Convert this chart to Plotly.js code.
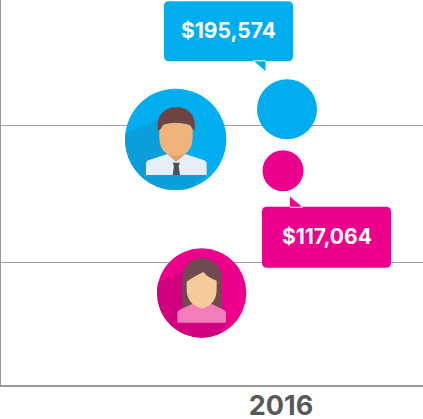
<!DOCTYPE html>
<html>
<head>
<meta charset="utf-8">
<script src="https://cdn.plot.ly/plotly-3.0.1.min.js"></script>
<style>html,body{margin:0;padding:0;background:#fff;overflow:hidden}#c{width:423px;height:419px}</style>
</head>
<body>
<div id="c"></div>
<script>
const years = [2016.06, 2016.02];
const tickYears = [2016];
const groups = ['Men', 'Women'];
const salaries = [195574, 117064];
const salaryLabels = ['$195,574', '$117,064'];
const gridValues = [0, 175000];

const BLUE = '#00AEEF', PINK = '#EC008C';
const W = 423, H = 419, ML = 1, MB = 34;
const plotW = W - ML, plotH = H - MB;

const manSvg = `<svg xmlns="http://www.w3.org/2000/svg" viewBox="0 0 330 330" width="330" height="330">
<defs><clipPath id="a"><circle cx="167" cy="178" r="152"/></clipPath></defs>
<circle cx="167" cy="178" r="152" fill="${BLUE}"/>
<path clip-path="url(#a)" d="M118 118L0 168V270L110 340H190L262 284L260 245L196 225L218 170Z" fill="#0A9FDA"/>
<path d="M78 285V250Q78 242 90 239L142 222H196L248 239Q260 242 260 250V285Z" fill="#E6EEF8"/>
<path d="M142 222L168 246L196 222L196 205H142Z" fill="#DDA06A"/>
<path d="M158 285L162 258L158 248H180L176 258L180 285Z" fill="#47525E"/>
<path d="M118 170V150Q120 128 168 128Q216 128 218 150V170Q218 225 168 228Q118 225 118 170Z" fill="#EFB47B"/>
<path d="M114 152C108 105 135 82 170 82C205 82 230 105 224 152C220 150 216 146 212 136C190 128 150 124 128 136C124 146 120 150 114 152Z" fill="#6E4443"/>
</svg>`;

const womanSvg = `<svg xmlns="http://www.w3.org/2000/svg" viewBox="0 0 315 315" width="315" height="315">
<defs><clipPath id="b"><circle cx="155" cy="159" r="134"/></clipPath></defs>
<circle cx="155" cy="159" r="134" fill="${PINK}"/>
<path clip-path="url(#b)" d="M100 95L0 135V240L110 310H190L232 248L228 215L215 190L215 110Z" fill="#D10080"/>
<path d="M97 205V120C97 75 125 55 156 55C190 55 215 78 215 120V205Z" fill="#6F4A50"/>
<path d="M82 248V218Q82 212 92 208L132 190H180L218 208Q228 212 228 218V248Z" fill="#F37DB8"/>
<path d="M132 178V194L156 206L180 194V178Z" fill="#EDBB8A"/>
<path d="M110 125Q128 112 160 96Q172 112 200 122V150Q198 195 156 205Q112 195 110 150Z" fill="#F6CB9C"/>
</svg>`;

const uri = s => 'data:image/svg+xml;charset=utf-8,' + encodeURIComponent(s);
const px = x => (x - ML) / plotW;
const py = y => 1 - y / plotH;

function avatar(svg, left, top, size) {
  return {source: uri(svg), xref: 'paper', yref: 'paper', x: px(left), y: py(top),
    sizex: size / plotW, sizey: size / plotH, xanchor: 'left', yanchor: 'top', sizing: 'stretch', layer: 'above'};
}
// callout outline in pixel offsets from a value anchor (y positive = up)
function callout(x, value, color, d) {
  return {type: 'path', layer: 'above', xref: 'x', yref: 'y', xsizemode: 'pixel', ysizemode: 'pixel',
    xanchor: x, yanchor: value, path: d, fillcolor: color, line: {width: 0}};
}
const r = 5;
function bubble(l, t, rgt, b, tail) {
  return `M${l + r} ${t}L${rgt - r} ${t}Q${rgt} ${t} ${rgt} ${t - r}L${rgt} ${b + r}Q${rgt} ${b} ${rgt - r} ${b}` +
    `L${l + r} ${b}Q${l} ${b} ${l} ${b + r}L${l} ${t - r}Q${l} ${t} ${l + r} ${t}Z ` + tail;
}

const traces = [0, 1].map(i => ({
  type: 'scatter', mode: 'markers', name: groups[i],
  x: [years[i]], y: [salaries[i]],
  marker: {size: i === 0 ? 60 : 41, color: i === 0 ? BLUE : PINK, line: {width: 0}, opacity: 1},
  hoverinfo: 'skip', cliponaxis: false
}));

const font = "Inter, 'Open Sans', sans-serif";
const layout = {
  width: W, height: H,
  margin: {l: ML, r: 0, t: 0, b: MB, pad: 0},
  paper_bgcolor: '#fff', plot_bgcolor: '#fff', showlegend: false,
  xaxis: {range: [2013.2, 2017.42], tickmode: 'array', tickvals: tickYears, ticktext: tickYears.map(String),
    showgrid: false, zeroline: false, showline: true, linecolor: '#999', linewidth: 1.5, ticks: '',
    ticklabelstandoff: -4,
    tickfont: {family: font, size: 27, color: '#58595B', weight: 700}, fixedrange: true},
  yaxis: {range: [-156960, 335336], tickmode: 'array', tickvals: gridValues, showticklabels: false,
    showgrid: true, gridcolor: '#A0A0A0', gridwidth: 1, zeroline: false, showline: true, linecolor: '#999',
    linewidth: 1.5, ticks: '', fixedrange: true},
  images: [avatar(manSvg, 120, 80, 110), avatar(womanSvg, 150, 240, 105)],
  shapes: [
    callout(years[0], salaries[0], BLUE, bubble(-123, 108, 6, 48, 'M-34 49L-21.5 38L-21.5 49Z')),
    callout(years[1], salaries[1], PINK, bubble(-21, -36, 108, -97, 'M7 -26L7 -37L20 -37Z'))
  ],
  annotations: [0, 1].map(i => ({
    xref: 'x', yref: 'y', x: years[i], y: salaries[i], text: salaryLabels[i], showarrow: false,
    xanchor: 'center', yanchor: 'middle', xshift: i === 0 ? -58.5 : 43.5, yshift: i === 0 ? 79 : -65.5,
    font: {family: font, size: 21, color: '#fff', weight: 700}
  }))
};
Plotly.newPlot('c', traces, layout, {displayModeBar: false, staticPlot: true});
</script>
</body>
</html>
